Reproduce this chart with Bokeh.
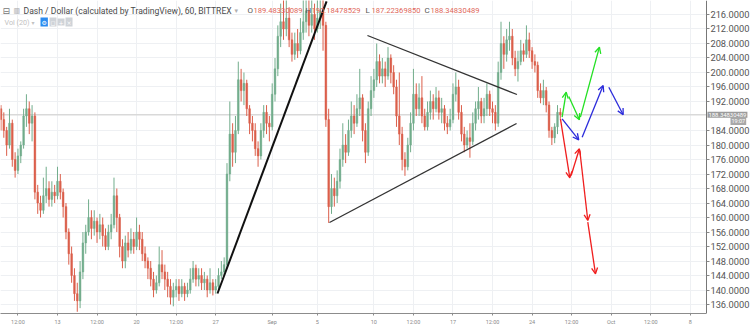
import pandas as pd
from bokeh.plotting import figure
from bokeh.models import (FixedTicker, Range1d, Label, Span, Arrow, OpenHead, BoxAnnotation,
                          ColumnDataSource, NumeralTickFormatter, CustomJSTickFormatter)
from bokeh.embed import file_html
from bokeh.resources import INLINE

# ---------------- data (6-hour candles) ----------------
candle_start = "2017-08-08 00:00"
candle_step = "6h"
first_open = 190.0
closes = [
    187, 184, 180, 186,   # Aug 8
    176, 173, 177, 180,   # Aug 9
    188, 190, 186, 188,   # Aug 10
    167, 164, 162, 166,   # Aug 11
    168, 165, 167, 166,   # Aug 12
    170, 167, 163, 156,   # Aug 13
    150, 144, 139, 137,   # Aug 14
    145, 153, 156, 160,   # Aug 15
    157, 159, 156, 158,   # Aug 16
    155, 152, 156, 158,   # Aug 17
    166, 160, 152, 148,   # Aug 18
    153, 151, 154, 152,   # Aug 19
    156, 154, 150, 148,   # Aug 20
    146, 143, 140, 142,   # Aug 21
    147, 145, 143, 141,   # Aug 22
    138, 140, 141, 139,   # Aug 23
    141, 139, 140, 143,   # Aug 24
    146, 143, 144, 142,   # Aug 25
    143, 140, 142, 140,   # Aug 26
    141, 144, 145, 147,   # Aug 27
    172, 183, 178, 184,   # Aug 28
    198, 195, 197, 190,   # Aug 29
    186, 184, 179, 177,   # Aug 30
    184, 189, 186, 185,   # Aug 31
    194, 201, 210, 214,   # Sep 1
    212, 215, 209, 205,   # Sep 2
    208, 206, 211, 214,   # Sep 3
    217, 213, 216, 212,   # Sep 4
    215, 217, 213, 187,   # Sep 5
    163, 168, 166, 170,   # Sep 6
    176, 180, 178, 184,   # Sep 7
    188, 186, 190, 193,   # Sep 8
    184, 178, 190, 195,   # Sep 9
    198, 203, 199, 201,   # Sep 10
    199, 204, 200, 196,   # Sep 11
    188, 183, 176, 174,   # Sep 12
    180, 186, 194, 190,   # Sep 13
    193, 188, 185, 189,   # Sep 14
    192, 190, 193, 189,   # Sep 15
    190, 186, 185, 187,   # Sep 16
    194, 196, 189, 183,   # Sep 17
    180, 182, 181, 186,   # Sep 18
    190, 192, 188, 190,   # Sep 19
    194, 190, 189, 186,   # Sep 20
    200, 208, 205, 209,   # Sep 21
    210, 204, 201, 203,   # Sep 22
    206, 205, 209, 206,   # Sep 23
    203, 202, 195, 193,   # Sep 24
    195, 191, 184, 182,   # Sep 25
    185, 189, 188.34830489,  # Sep 26
]
highs = [
    191, 189, 185, 190,
    187, 178, 179, 181,
    190, 194, 192, 191,
    189, 169, 166, 171,
    174, 170, 170, 169,
    174, 172, 168, 164,
    157, 152, 146, 142,
    148, 156, 158, 165,
    162, 162, 160, 161,
    160, 157, 158, 161,
    171, 168, 161, 154,
    155, 156, 157, 156,
    160, 158, 156, 152,
    149, 148, 145, 144,
    152, 151, 147, 145,
    143, 142, 143, 143,
    143, 142, 142, 146,
    148, 147, 146, 146,
    145, 144, 146, 143,
    143, 146, 148, 149,
    175, 192, 186, 188,
    203, 201, 200, 198,
    191, 188, 186, 181,
    186, 191, 191, 188,
    197, 204, 213, 219,
    220, 221, 218, 211,
    211, 212, 215, 220,
    221, 220, 221, 219,
    220, 221, 220, 214,
    190, 172, 171, 173,
    179, 186, 183, 187,
    192, 191, 194, 201,
    194, 186, 192, 199,
    201, 208, 205, 204,
    203, 207, 205, 202,
    198, 200, 185, 178,
    182, 189, 201, 197,
    197, 199, 190, 192,
    195, 194, 196, 195,
    193, 191, 188, 190,
    197, 200, 198, 191,
    185, 184, 186, 189,
    192, 196, 193, 193,
    197, 195, 192, 191,
    203, 214, 210, 212,
    214, 212, 206, 206,
    209, 208, 213, 211,
    207, 205, 203, 197,
    198, 196, 192, 185,
    186, 191, 190.18478529,
]
lows = [
    184, 182, 177, 179,
    174, 171, 172, 175,
    179, 185, 183, 181,
    165, 161, 160, 161,
    164, 163, 163, 164,
    165, 165, 160, 154,
    147, 142, 137, 134,
    135, 143, 150, 155,
    154, 155, 153, 154,
    152, 151, 151, 154,
    157, 156, 149, 146,
    146, 149, 150, 150,
    151, 151, 148, 146,
    143, 141, 138, 139,
    141, 143, 140, 138,
    136, 135.5, 138, 137,
    138, 137, 138, 139,
    142, 141, 141, 140,
    140, 138, 139, 138.5,
    139, 140, 143, 144,
    146, 170, 174, 175,
    183, 192, 191, 188,
    183, 181, 177, 174,
    176, 182, 183, 181,
    184, 192, 199, 207,
    209, 210, 207, 203,
    203.5, 204, 205, 209,
    211, 210, 211, 209,
    211, 212, 206, 185,
    158.5, 161, 163, 164,
    168, 174, 175, 177,
    182, 183, 185, 188,
    181, 175, 177, 188,
    193, 196, 197, 197,
    196, 198, 197, 194,
    185, 180, 173, 171.5,
    173, 178, 184, 188,
    188, 186, 184, 184,
    187, 187, 189, 187,
    186, 184, 183, 184,
    186, 192, 187, 181,
    178, 179, 176.5, 180,
    184, 187, 186, 186,
    188, 188, 186, 184,
    185, 198, 201, 203,
    206, 202, 199, 197.5,
    202, 203, 204, 204,
    201, 200, 193, 191.5,
    191, 189, 182, 180,
    180.5, 183, 187.22369850,
]
last_price = 188.34830489
last_price_text = "188.34830489"
countdown_text = "19:07"
ohlc_text = [("O", "189.48330089"), ("H", "190.18478529"), ("L", "187.22369850"), ("C", "188.34830489")]

tick_dates = ["2017-08-09 12:00", "2017-08-13", "2017-08-16 12:00", "2017-08-20", "2017-08-23 12:00",
              "2017-08-27", "2017-09-01", "2017-09-05", "2017-09-10", "2017-09-13 12:00", "2017-09-17",
              "2017-09-20 12:00", "2017-09-24", "2017-09-27 12:00", "2017-10-01", "2017-10-04 12:00",
              "2017-10-08"]
tick_labels = ["12:00", "13", "12:00", "20", "12:00", "27", "Sep", "5", "10", "12:00", "17",
               "12:00", "24", "12:00", "Oct", "12:00", "8"]
price_ticks = [136, 140, 144, 148, 152, 156, 160, 164, 168, 172, 176, 180, 184,
               192, 196, 200, 204, 208, 212, 216]

# drawings: (time, price) pairs
trend_lines = [
    (("2017-08-27 03:50", 139.03), ("2017-09-05 19:30", 219.6), "#111111", 2.0),
    (("2017-09-09 10:20", 210.21), ("2017-09-22 15:50", 193.93), "#333333", 1.3),
    (("2017-09-06 01:40", 158.62), ("2017-09-22 15:00", 185.93), "#333333", 1.3),
]
arrows = [
    ("#22e022", ("2017-09-26 15:50", 187.67), ("2017-09-27 00:30", 194.57)),
    ("#22e022", ("2017-09-27 06:00", 193.38), ("2017-09-28 04:30", 186.95)),
    ("#22e022", ("2017-09-28 06:40", 187.67), ("2017-09-29 23:00", 206.98)),
    ("#2b2bdb", ("2017-09-26 15:50", 187.23), ("2017-09-28 03:10", 181.43)),
    ("#2b2bdb", ("2017-09-28 10:20", 182.15), ("2017-09-30 07:00", 196.41)),
    ("#2b2bdb", ("2017-09-30 19:00", 195.94), ("2017-10-02 01:30", 188.33)),
    ("#f01e1e", ("2017-09-26 12:15", 187.23), ("2017-09-27 08:10", 170.95)),
    ("#f01e1e", ("2017-09-27 11:00", 171.59), ("2017-09-28 04:30", 178.95)),
    ("#f01e1e", ("2017-09-28 05:20", 178.48), ("2017-09-28 22:20", 159.17)),
    ("#f01e1e", ("2017-09-28 22:20", 158.70), ("2017-09-29 14:40", 144.47)),
]

# ---------------- build ----------------
def ms(s):
    return pd.Timestamp(s).value / 1e6

DAY = 86400000
base = ms("2017-08-13")
x0 = base - 5.044 * DAY      # left edge of the window
x_scale = base + 57.43 * DAY  # where the price scale sits
x1 = base + 61.33 * DAY      # right edge of the window

UP, DOWN = "#72ad8c", "#db5f4b"
times = pd.date_range(candle_start, periods=len(closes), freq=candle_step)
opens = [first_open] + closes[:-1]
colors = [UP if c >= o else DOWN for o, c in zip(opens, closes)]
src = ColumnDataSource(dict(
    t=times, o=opens, c=closes, h=highs, l=lows,
    top=[max(o, c) for o, c in zip(opens, closes)],
    bot=[min(o, c) for o, c in zip(opens, closes)],
    col=colors))

p = figure(width=750, height=327, output_backend="svg", toolbar_location=None,
           x_axis_type="datetime", y_axis_location="right",
           x_range=Range1d(x0, x1), y_range=Range1d(133.52, 219.86),
           min_border_left=0, min_border_top=0, min_border_right=0, min_border_bottom=14,
           background_fill_color="white", border_fill_color="white")
p.outline_line_color = None

tick_ms = [ms(d) for d in tick_dates]
p.xaxis.ticker = FixedTicker(ticks=tick_ms)
p.xaxis.formatter = CustomJSTickFormatter(args=dict(tk=tick_ms, lbl=tick_labels), code="""
let best = -1, bd = 1e12;
for (let i = 0; i < tk.length; i++) { const d = Math.abs(tk[i] - tick); if (d < bd) { bd = d; best = i; } }
return bd < 60000 ? lbl[best] : "";
""")
p.xaxis.bounds = (x0, x_scale)
p.xaxis.major_label_text_font_size = "5.5px"
p.xaxis.major_label_text_color = "#8a8a8a"
p.xaxis.major_label_text_font = "Roboto"
p.xaxis.major_tick_out = 2
p.xaxis.major_tick_in = 0
p.xaxis.minor_tick_line_color = None
p.xaxis.axis_line_color = "#8c8c8c"
p.xaxis.major_tick_line_color = "#8c8c8c"
p.xaxis.major_label_standoff = 3

yax = p.yaxis[0]
yax.fixed_location = x_scale
yax.ticker = FixedTicker(ticks=price_ticks)
yax.formatter = NumeralTickFormatter(format="0.0000")
yax.major_label_text_font_size = "9.3px"
yax.major_label_text_font = "Roboto"
yax.major_label_text_color = "#555555"
yax.major_tick_out = 3
yax.major_tick_in = 0
yax.minor_tick_line_color = None
yax.axis_line_color = "#777777"
yax.major_tick_line_color = "#888888"
yax.major_label_standoff = 1

p.xgrid.ticker = FixedTicker(ticks=tick_ms)
p.xgrid.grid_line_color = "#eef0f3"
p.ygrid.grid_line_color = "#eef0f3"

# current price line (under the scale cover)
p.add_layout(Span(location=last_price, dimension="width", line_color="#d9d9d9", line_width=1.5,
                  level="underlay"))
# white cover behind the price scale so grid lines stop at the scale
p.add_layout(BoxAnnotation(left=x_scale, right=x1, fill_color="white", fill_alpha=1,
                           line_color=None, level="underlay"))

half = 6 * 3600 * 1000 * 0.6
p.segment(x0="t", y0="l", x1="t", y1="h", source=src, line_color="col", line_width=1)
p.vbar(x="t", width=half, top="top", bottom="bot", source=src, fill_color="col", line_color="col", line_width=0.5)

for (ta, pa), (tb, pb), col, lw in trend_lines:
    p.line([ms(ta), ms(tb)], [pa, pb], line_color=col, line_width=lw)

for col, (ta, pa), (tb, pb) in arrows:
    p.add_layout(Arrow(end=OpenHead(size=6, line_color=col, line_width=1.3),
                       x_start=ms(ta), y_start=pa, x_end=ms(tb), y_end=pb,
                       line_color=col, line_width=1.3))

# header texts (screen units relative to plot frame, y up from frame bottom)
FH = 313
def lab(x, ypx, text, color, size, font="Roboto", bold=False, **kw):
    p.add_layout(Label(x=x, y=FH - ypx, x_units="screen", y_units="screen", text=text,
                       text_color=color, text_font_size=size, text_font=font,
                       text_font_style="bold" if bold else "normal",
                       text_baseline="middle", text_align="left", **kw))

lab(2, 10, "⊟", "#777777", "9px", font="DejaVu Sans")
lab(13, 10, "▥", "#9a9a9a", "7px", font="DejaVu Sans")
lab(23, 10, "Dash / Dollar (calculated by TradingView), 60, BITTREX", "#4a4a4a", "8.6px")
lab(234, 10, "▾", "#b0b0b0", "7px", font="DejaVu Sans")
xs = [247, 305, 365, 424]
for (k, v), xx in zip(ohlc_text, xs):
    lab(xx, 10, k, "#555555", "8px")
    lab(xx + 6, 10, v, "#e0675a", "7.6px")
lab(4, 22, "Vol (20)", "#c2c2c2", "7.2px")
lab(31, 22, "▾", "#c2c2c2", "6px", font="DejaVu Sans")
lab(40, 21.5, "⚙", "white", "6px", font="DejaVu Sans", background_fill_color="#2a8cf0", padding=1)
for xx, sym in zip([49, 57, 65], ["◻", "+", "×"]):
    lab(xx, 21.5, sym, "white", "6px", font="DejaVu Sans", background_fill_color="#cfd3d8", padding=1)

# last price marks in the price scale
p.add_layout(Label(x=x_scale, y=last_price, x_units="data", y_units="data", x_offset=1,
                   text=last_price_text, text_color="white", text_font_size="5.9px", text_font="Roboto",
                   text_baseline="middle", background_fill_color="#9b9b9b", padding=1))
p.add_layout(Label(x=730, y=FH - 120.5, x_units="screen", y_units="screen", text=countdown_text,
                   text_color="white", text_font_size="5.5px", text_font="Roboto", text_baseline="middle",
                   background_fill_color="#a8a8a8", padding=1))

open("out.html", "w").write(file_html(p, INLINE))
